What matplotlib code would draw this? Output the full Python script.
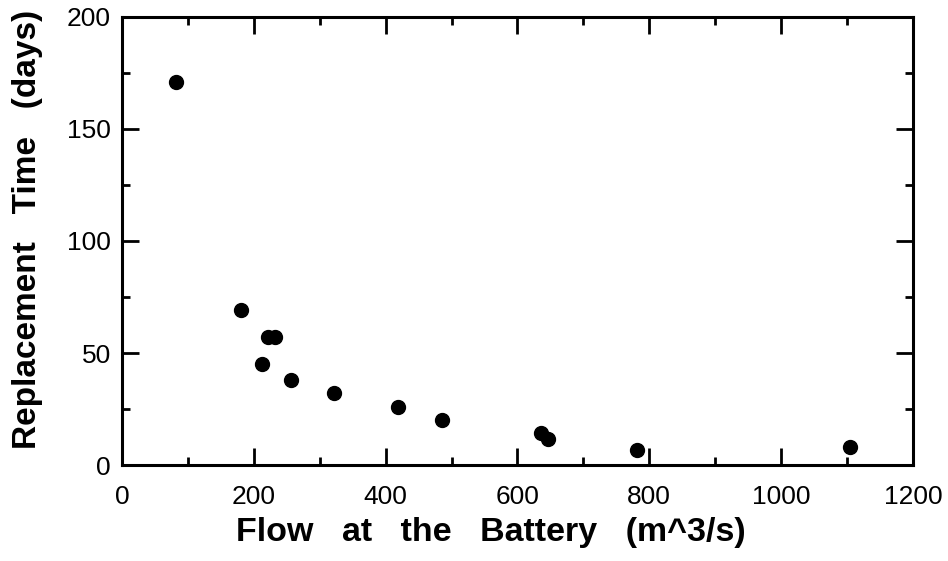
import matplotlib.pyplot as plt
from matplotlib.ticker import MultipleLocator

plt.rcParams['font.family'] = ['Liberation Sans', 'DejaVu Sans']

# flow at the Battery (m^3/s) and replacement time (days)
flow = [82, 181, 213, 221, 232, 257, 321, 418, 486, 635, 647, 782, 1105]
days = [171, 69, 45, 57, 57, 38, 32, 26, 20, 14.3, 11.6, 6.7, 8]

fig = plt.figure(figsize=(9.48, 5.61), dpi=100)
ax = fig.add_axes([0.1287, 0.171, 0.8343, 0.799])

ax.plot(flow, days, 'o', color='black', markersize=10)

ax.set_xlim(0, 1200)
ax.set_ylim(0, 200)
ax.xaxis.set_major_locator(MultipleLocator(200))
ax.xaxis.set_minor_locator(MultipleLocator(100))
ax.yaxis.set_major_locator(MultipleLocator(50))
ax.yaxis.set_minor_locator(MultipleLocator(25))
ax.tick_params(which='both', direction='in', top=True, right=True, width=2, labelsize=19)
ax.tick_params(axis='x', pad=14)
ax.tick_params(axis='y', pad=8)
ax.tick_params(which='major', length=12)
ax.tick_params(which='minor', length=6)
for s in ax.spines.values():
    s.set_linewidth(2.2)

ax.set_xlabel("Flow   at   the   Battery   (m^3/s)", fontsize=24.5, fontweight='bold')
ax.set_ylabel("Replacement   Time   (days)", fontsize=24, fontweight='bold')
# labels in the original sit a little off-centre
ax.xaxis.set_label_coords(0.4665, -0.115)
ax.yaxis.set_label_coords(-0.1, 0.526)

fig.savefig('out.png', dpi=100)
